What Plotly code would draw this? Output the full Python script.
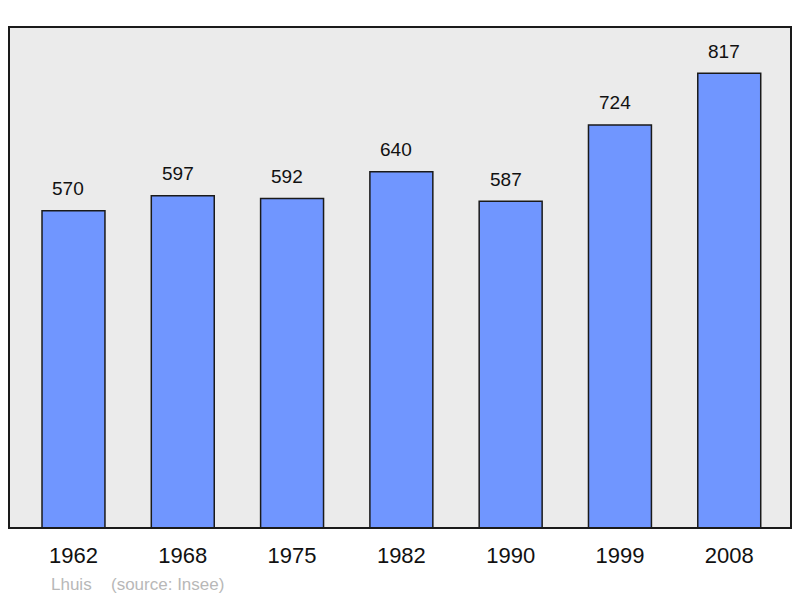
import plotly.graph_objects as go

years = ["1962", "1968", "1975", "1982", "1990", "1999", "2008"]
population = [570, 597, 592, 640, 587, 724, 817]
commune = "Lhuis"
source = "(source: Insee)"

FONT = "Liberation Sans, Arial, sans-serif"

fig = go.Figure()
fig.add_trace(go.Bar(
    x=years, y=population,
    marker=dict(color="#7096ff", line=dict(color="#1a1a1a", width=1.5)),
    width=0.576,
    hoverinfo="x+y",
))

for i, v in enumerate(population):
    fig.add_annotation(x=i, y=v, xref="x", yref="y", text=str(v), showarrow=False,
                       yanchor="middle", yshift=22, xshift=-5,
                       font=dict(family=FONT, size=19, color="#111"))

fig.add_annotation(xref="paper", yref="paper", x=(49 - 9) / 782, y=-(584.5 - 528) / 501,
                   text=commune, showarrow=False, xanchor="left", yanchor="middle",
                   font=dict(family=FONT, size=17, color="#b8b8b8"))
fig.add_annotation(xref="paper", yref="paper", x=(109 - 9) / 782, y=-(584.5 - 528) / 501,
                   text=source, showarrow=False, xanchor="left", yanchor="middle",
                   font=dict(family=FONT, size=17, color="#b8b8b8"))

fig.add_shape(type="rect", xref="paper", yref="paper", x0=0, y0=0, x1=1, y1=1,
              line=dict(color="#1a1a1a", width=2), layer="above")

# page body has an 8px default margin, so the figure is offset by (8, 8)
fig.update_layout(
    width=792, height=590,
    margin=dict(l=1, r=9, t=19, b=70),
    paper_bgcolor="white",
    plot_bgcolor="#ebebeb",
    showlegend=False,
    font=dict(family=FONT, color="#111"),
    xaxis=dict(type="category", range=[-0.59, 6.565], showgrid=False, zeroline=False,
               showline=False, ticks="", tickfont=dict(family=FONT, size=22, color="#111"),
               ticklabelstandoff=12, fixedrange=True),
    yaxis=dict(range=[0, 900], showgrid=False, zeroline=False, showline=False,
               showticklabels=False, ticks="", fixedrange=True),
)

fig.write_html("out.html")
